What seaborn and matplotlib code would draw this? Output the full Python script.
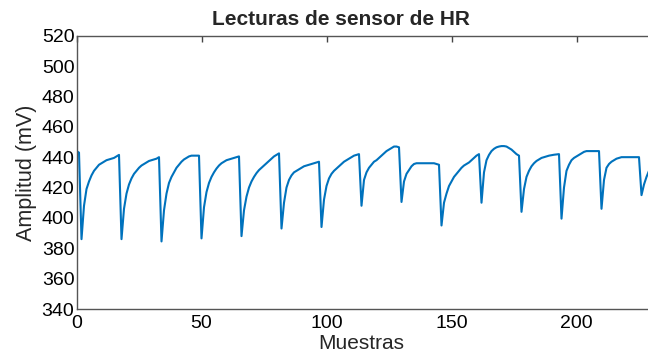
import numpy as np
import pandas as pd
import matplotlib
matplotlib.use('Agg')
import matplotlib.pyplot as plt
import seaborn as sns

# Lecturas del sensor (mV), una fila por ciclo aprox.
amplitud = [
    444, 443,
    386, 408, 419, 424, 428, 431, 433, 435, 436, 437, 438, 438.5, 439, 439.5, 440.5, 441.5,
    386, 406, 416, 422, 426, 429, 431, 433, 434.5, 435.5, 436.5, 437.5, 438, 438.5, 439, 440,
    384.5, 405, 416, 423, 427, 430, 433, 435, 437, 438.5, 439.5, 440.5, 441, 441, 441, 441,
    386.5, 407, 417, 423, 427, 430, 432.5, 434.5, 436, 437, 438, 438.5, 439, 439.5, 440, 440.5,
    388, 405, 414, 420, 424, 427, 429.5, 431.5, 433, 434.5, 436, 437.5, 439, 440.5, 441.5, 442.5,
    393, 410, 420, 425, 428, 430, 431, 432, 433, 434, 434.5, 435, 435.5, 436, 436.5, 437,
    394, 412, 421, 426, 429, 431, 432.5, 434, 435.5, 437, 438, 439, 440, 441, 441.5, 442,
    408, 425, 430, 433, 435, 437, 438, 439.5, 441, 442.5, 444, 445, 446, 447, 447, 446.5,
    410.5, 424, 429, 431.5, 434, 435.5, 436, 436, 436, 436, 436, 436, 436, 436, 435.5, 435,
    395, 410, 416, 421, 424, 427, 429, 431, 433, 434.5, 435.5, 436.5, 438, 439.5, 441, 442,
    410, 430, 438, 441.5, 444, 445.5, 446.5, 447, 447.3, 447.3, 447, 446, 445, 443.5, 442, 441,
    404, 419, 427, 431, 434, 436, 437.5, 438.5, 439.5, 440, 440.5, 441, 441.3, 441.6, 441.8, 442,
    399.5, 420, 431, 435, 438, 439.5, 440.5, 441.5, 442.5, 443.5, 444, 444, 444, 444, 444, 444,
    406, 425, 433, 435.5, 437, 438, 439, 439.5, 440, 440, 440, 440, 440, 440, 440, 440,
    415, 422, 427, 431, 434,
]
muestras = np.arange(len(amplitud))

xticks = [0, 50, 100, 150, 200]
yticks = list(range(340, 521, 20))

df = pd.DataFrame({'Muestras': muestras, 'Amplitud': amplitud})

sns.set_style('white')
plt.rcParams['font.family'] = ['Liberation Sans', 'DejaVu Sans']

fig = plt.figure(figsize=(6.48, 3.57), dpi=100)
ax = fig.add_axes([76.5 / 648, 48 / 357, 575 / 648, 273.3 / 357])

sns.lineplot(data=df, x='Muestras', y='Amplitud', ax=ax, color='#0072BD', linewidth=1.5)

ax.set_xlim(0, 230)
ax.set_ylim(340, 520)
ax.set_xticks(xticks)
ax.set_yticks(yticks)
ax.tick_params(axis='both', direction='in', length=4, width=1, color='#444444',
               labelsize=14, labelcolor='black', top=True, right=False)
ax.tick_params(axis='x', pad=4)
ax.tick_params(axis='y', pad=1.5)
for s in ax.spines.values():
    s.set_color('#555555')
    s.set_linewidth(1.0)

ax.set_title('Lecturas de sensor de HR', fontsize=15, fontweight='bold', x=0.46, pad=8)
ax.set_xlabel('Muestras', fontsize=15)
ax.set_ylabel('Amplitud (mV)', fontsize=15.5, labelpad=3)
ax.xaxis.set_label_coords(0.495, -0.09)

fig.savefig('out.png', dpi=100)
